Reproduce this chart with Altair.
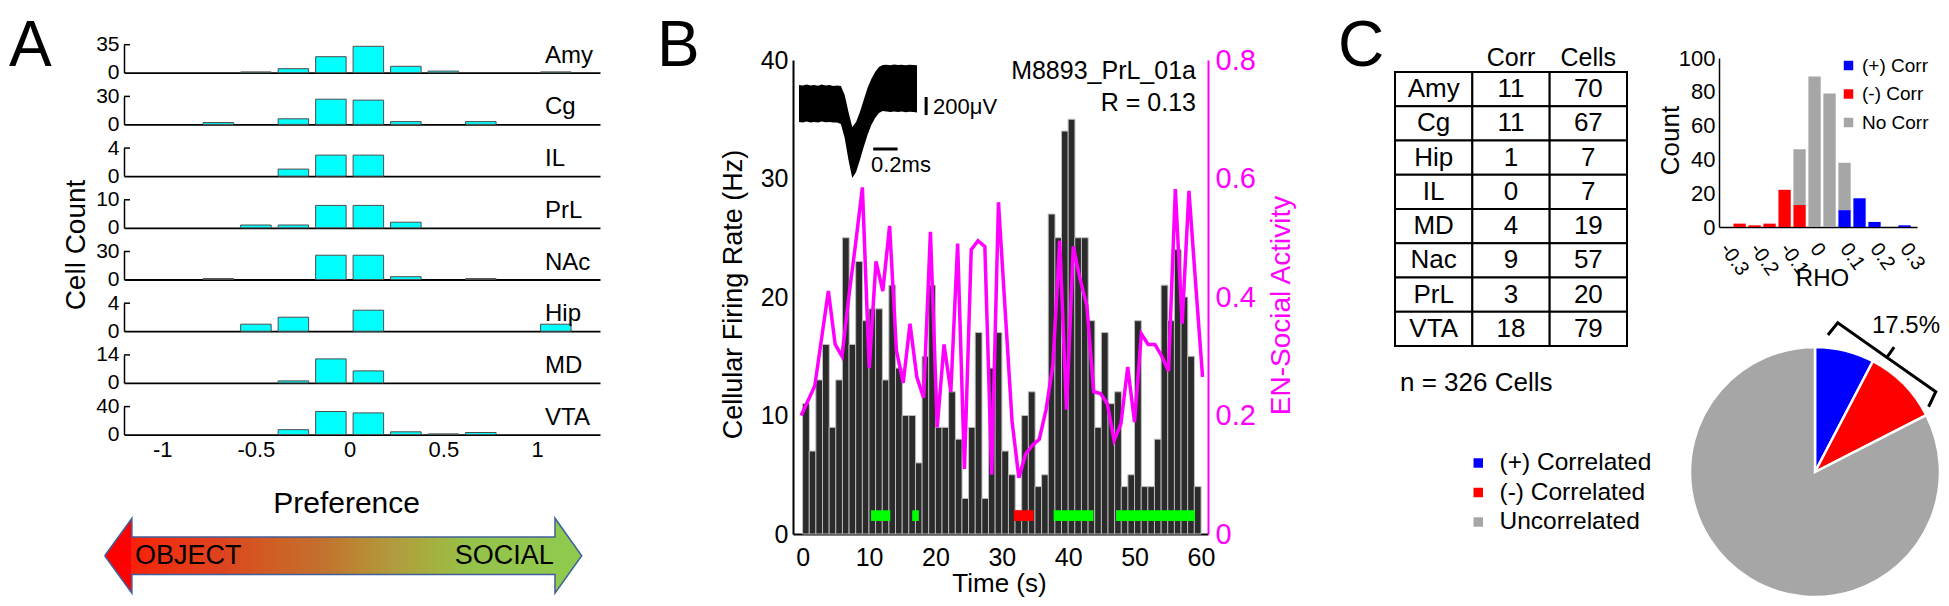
import altair as alt
import pandas as pd

FONT = "Liberation Sans"
BLACK = "#000000"
MAGENTA = "#ff00ff"
CYAN = "#00ffff"
W, H = 1933, 590

# ---------------- Panel A data ----------------
regions_a = ["Amy", "Cg", "IL", "PrL", "NAc", "Hip", "MD", "VTA"]
ytop_a = [35, 30, 4, 10, 30, 4, 14, 40]
pref_bins = [-0.7, -0.5, -0.3, -0.1, 0.1, 0.3, 0.5, 0.7, 0.9, 1.1]
count_amy = [0, 1, 5, 20, 33, 8, 2, 0, 0, 1]
count_cg = [2, 0, 6, 27, 26, 3, 0, 3, 0, 0]
count_il = [0, 0, 1, 3, 3, 0, 0, 0, 0, 0]
count_prl = [0, 1, 1, 8, 8, 2, 0, 0, 0, 0]
count_nac = [1, 0, 0, 26, 26, 3, 0, 1, 0, 0]
count_hip = [0, 1, 2, 0, 3, 0, 0, 0, 0, 1]
count_md = [0, 0, 1, 12, 6, 0, 0, 0, 0, 0]
count_vta = [0, 0, 7, 33, 31, 4, 1, 3, 0, 0]
counts_a = [count_amy, count_cg, count_il, count_prl, count_nac, count_hip, count_md, count_vta]
pref_ticks = [-1, -0.5, 0, 0.5, 1]

# double arrow (tip-to-tip 0..1, head half-height 1, body half-height 0.5)
HEAD_L, HEAD_R = 0.057, 0.944
arrow_path_u = [0.0, HEAD_L, HEAD_L, HEAD_R, HEAD_R, 1.0, HEAD_R, HEAD_R, HEAD_L, HEAD_L, 0.0]
arrow_path_v = [0.0, 1.0, 0.5, 0.5, 1.0, 0.0, -1.0, -0.5, -0.5, -1.0, 0.0]
grad_pos = [0.0, 0.25, 0.45, 0.6, 0.76, 1.0]
grad_col = ["#ff0000", "#dd4420", "#c46f30", "#b09a3e", "#95c24a", "#8fca4f"]

# ---------------- Panel B data ----------------
time_bins = [i + 0.5 for i in range(60)]
firing_hz = [11, 7, 13, 16, 9, 13, 25, 16, 23, 18,
             19, 19, 13, 21, 14, 10, 10, 6, 15, 21,
             9, 9, 12, 8, 3, 9, 17, 3, 14, 17,
             7, 5, 2, 10, 12, 4, 5, 27, 25, 34,
             35, 25, 25, 18, 9, 17, 11, 12, 4, 5,
             18, 4, 4, 8, 21, 18, 24, 20, 15, 4]
en_social = [0.20, 0.225, 0.25, 0.33, 0.41, 0.32, 0.30, 0.40, 0.49, 0.585,
             0.28, 0.46, 0.41, 0.52, 0.31, 0.255, 0.355, 0.265, 0.23, 0.51,
             0.18, 0.32, 0.24, 0.49, 0.11, 0.48, 0.495, 0.485, 0.10, 0.56,
             0.375, 0.19, 0.095, 0.135, 0.15, 0.16, 0.21, 0.285, 0.495, 0.21,
             0.485, 0.43, 0.385, 0.24, 0.237, 0.22, 0.158, 0.186, 0.282, 0.189,
             0.338, 0.32, 0.32, 0.30, 0.275, 0.582, 0.355, 0.579, 0.42, 0.265]
epoch_start = [10.3, 16.5, 31.8, 37.8, 47.2]
epoch_end = [13.2, 17.5, 34.8, 43.8, 59.1]
epoch_kind = ["social", "social", "object", "social", "social"]

wave_sample = list(range(32))
wave_upper = [205, 200, 210, 200, 205, 198, 210, 200, 205, 195, 200, 194, 94, -94, -261, -205,
              -94, 39, 172, 272, 350, 405, 427, 430, 425, 432, 428, 430, 425, 430, 427, 425]
wave_lower = [-205, -210, -200, -212, -205, -210, -200, -208, -205, -212, -210, -228, -383, -627, -827, -760,
              -627, -483, -350, -239, -161, -105, -83, -90, -95, -88, -94, -90, -96, -92, -95, -100]
SCALE_UV = 200
SAMPLES_PER_MS = 32

# ---------------- Panel C data ----------------
regions_t = ["Amy", "Cg", "Hip", "IL", "MD", "Nac", "PrL", "VTA"]
corr_t = [11, 11, 1, 0, 4, 9, 3, 18]
cells_t = [70, 67, 7, 7, 19, 57, 20, 79]

rho_bins = [-0.275, -0.225, -0.175, -0.125, -0.075, -0.025, 0.025, 0.075, 0.125, 0.175, 0.225, 0.275]
rho_pos = [0, 0, 0, 0, 0, 0, 0, 10, 17, 3, 0, 1]
rho_neg = [2, 1, 2, 22, 13, 0, 0, 0, 0, 0, 0, 0]
rho_none = [0, 0, 0, 0, 33, 89, 79, 28, 0, 0, 0, 0]
hist_types = ["(+) Corr", "(-) Corr", "No Corr"]

pie_labels = ["(+) Correlated", "(-) Correlated", "Uncorrelated"]
pie_counts = [25, 32, 269]
corr_colors = ["#0000ff", "#ff0000", "#a6a6a6"]

# bracket around the correlated slices, in pie-radius units
bracket_x = [0.103, 0.182, 0.575, 0.633, 0.575, 0.966, 0.909]
bracket_y = [1.096, 1.194, 0.917, 0.999, 0.917, 0.642, 0.522]

# ---------------- helpers ----------------
ONE = pd.DataFrame({"a": [0]})
MINUS = "datum.value < 0 ? '-' + format(-datum.value, '~g') : format(datum.value, '~g')"


def ax(**kw):
    base = dict(grid=False, ticks=False, tickSize=0, labelFont=FONT, titleFont=FONT,
                labelColor=BLACK, titleColor=BLACK, domainColor=BLACK,
                labelFlush=False, labelOverlap=False, titleFontWeight="normal")
    base.update(kw)
    return alt.Axis(**base)


def text_mark(txt, x, y, size, align="left", baseline="alphabetic", angle=None, color=BLACK):
    kw = dict(text=txt, font=FONT, fontSize=size, align=align, baseline=baseline, color=color)
    if angle is not None:
        kw["angle"] = angle
    return alt.Chart(ONE).mark_text(**kw).encode(x=alt.value(x), y=alt.value(y))


layers = []
texts = []

# ---------------- Panel A ----------------
A_X0, A_X1 = 116, 592
XDOM_A = [-1.177, 1.309]
A_H = 28
for i, (name, top, counts) in enumerate(zip(regions_a, ytop_a, counts_a)):
    base_y = 64.7 + 51.7 * i
    df = pd.DataFrame({"pref": pref_bins, "n": counts})
    df = df[df["n"] > 0]
    if i == len(regions_a) - 1:
        xaxis = ax(orient="bottom", values=pref_ticks, labelExpr=MINUS, labelFontSize=22,
                   labelPadding=14.5, labelBaseline="middle", domainWidth=1.8, title=None,
                   offset=base_y - H)
    else:
        xaxis = ax(orient="bottom", labels=False, domainWidth=1.8, title=None, offset=base_y - H)
    ysc = alt.Scale(domain=[0, top], range=[base_y, base_y - A_H], nice=False)
    bars = alt.Chart(df).mark_bar(orient="vertical", size=30.5, fill=CYAN, stroke="#4d4d4d",
                                  strokeWidth=1).encode(
        x=alt.X("pref:Q", scale=alt.Scale(domain=XDOM_A, range=[A_X0, A_X1], nice=False, zero=False),
                axis=xaxis),
        y=alt.Y("n:Q", scale=ysc,
                axis=ax(orient="left", values=[0, top], format="~g", labelFontSize=21, labelPadding=5,
                        domainWidth=1.5, title=None, offset=-A_X0)))
    tick = alt.Chart(pd.DataFrame({"n": [top]})).mark_rule(color=BLACK, strokeWidth=1.5).encode(
        y=alt.Y("n:Q"), x=alt.value(A_X0), x2=alt.value(A_X0 + 6))
    layers.append(alt.layer(bars, tick))
    texts.append(text_mark(name, 537, base_y - 10, 24))

texts.append(text_mark("A", 1, 58, 64))
texts.append(text_mark("Cell Count", 69, 237, 28, align="center", baseline="middle", angle=270))

# arrow: gradient body built from thin strips coloured through a colour scale
axs = alt.Scale(domain=[0, 1], range=[96.7, 573.7], nice=False, zero=False)
ays = alt.Scale(domain=[-1, 1], range=[585.2, 510.2], nice=False, zero=False)
n_strips = 90
strip_w = (HEAD_R - HEAD_L) / n_strips
strip_df = pd.DataFrame({"u0": [HEAD_L + k * strip_w for k in range(n_strips)]})
strip_df["u1"] = strip_df["u0"] + strip_w * 1.25
strip_df["uc"] = strip_df["u0"] + strip_w / 2
strip_df["vt"] = 0.5
strip_df["vb"] = -0.5
body = alt.Chart(strip_df).mark_rect(strokeWidth=0).encode(
    x=alt.X("u0:Q", scale=axs, axis=None), x2="u1:Q",
    y=alt.Y("vt:Q", scale=ays, axis=None), y2="vb:Q",
    color=alt.Color("uc:Q", scale=alt.Scale(domain=grad_pos, range=grad_col), legend=None))
lhead = alt.Chart(pd.DataFrame({"u": [0.0, HEAD_L], "t": [0.0, 1.0], "b": [0.0, -1.0]})).mark_area(
    color=grad_col[0]).encode(x=alt.X("u:Q", scale=axs, axis=None), y=alt.Y("t:Q", scale=ays, axis=None),
                              y2="b:Q")
rhead = alt.Chart(pd.DataFrame({"u": [HEAD_R, 1.0], "t": [1.0, 0.0], "b": [-1.0, 0.0]})).mark_area(
    color=grad_col[-1]).encode(x=alt.X("u:Q", scale=axs, axis=None), y=alt.Y("t:Q", scale=ays, axis=None),
                               y2="b:Q")
outline = alt.Chart(pd.DataFrame({"u": arrow_path_u, "v": arrow_path_v, "k": list(range(len(arrow_path_u)))})
                    ).mark_line(color="#41609a", strokeWidth=1.5).encode(
    x=alt.X("u:Q", scale=axs, axis=None), y=alt.Y("v:Q", scale=ays, axis=None), order=alt.Order("k:Q"))
layers.append(alt.layer(body, lhead, rhead, outline))
texts += [text_mark("Preference", 338.6, 505, 30, align="center"),
          text_mark("OBJECT", 127, 547.7, 27, baseline="middle"),
          text_mark("SOCIAL", 545.8, 547.7, 27, align="right", baseline="middle")]

# ---------------- Panel B ----------------
B_X0, B_X1, B_Y0, B_Y1 = 785, 1200, 526, 52
xsB = alt.Scale(domain=[-0.7, 60.3], range=[B_X0, B_X1], nice=False, zero=False)
fr_df = pd.DataFrame({"t": time_bins, "hz": firing_hz})
bars_b = alt.Chart(fr_df).mark_bar(orient="vertical", size=6.8, color="#2b2b2b", stroke="#bdbdbd",
                                   strokeWidth=1).encode(
    x=alt.X("t:Q", scale=xsB,
            axis=ax(orient="bottom", values=[0, 10, 20, 30, 40, 50, 60], labelFontSize=25,
                    labelPadding=23, labelBaseline="middle", domainWidth=2, offset=B_Y0 - H,
                    title="Time (s)", titleFontSize=26, titleX=991, titleY=49,
                    titleAlign="center", titleBaseline="middle")),
    y=alt.Y("hz:Q", scale=alt.Scale(domain=[0, 40], range=[B_Y0, B_Y1], nice=False),
            axis=ax(orient="left", values=[0, 10, 20, 30, 40], labelFontSize=25, labelPadding=5,
                    domainWidth=2, offset=-B_X0, title="Cellular Firing Rate (Hz)", titleFontSize=27,
                    titleX=-60, titleY=286, titleAngle=270, titleAlign="center",
                    titleBaseline="middle")))
ep_df = pd.DataFrame({"start": epoch_start, "end": epoch_end, "kind": epoch_kind})
epochs = alt.Chart(ep_df).mark_rect().encode(
    x=alt.X("start:Q", scale=xsB), x2="end:Q",
    y=alt.datum(1.1), y2=alt.datum(2.0),
    color=alt.Color("kind:N", scale=alt.Scale(domain=["social", "object"], range=["#00ff00", "#ff0000"]),
                    legend=None))
layers.append(alt.layer(bars_b, epochs))

en_df = pd.DataFrame({"t": time_bins, "en": en_social})
line_b = alt.Chart(en_df).mark_line(color=MAGENTA, strokeWidth=3.5).encode(
    x=alt.X("t:Q", scale=xsB, axis=None),
    y=alt.Y("en:Q", scale=alt.Scale(domain=[0, 0.8], range=[B_Y0, B_Y1], nice=False),
            axis=ax(orient="right", values=[0, 0.2, 0.4, 0.6, 0.8], format="~g", labelFontSize=29,
                    labelPadding=7, domainWidth=2, domainColor=MAGENTA, labelColor=MAGENTA,
                    titleColor=MAGENTA, offset=B_X1 - W, title="EN-Social Activity", titleFontSize=28,
                    titleX=73, titleY=297, titleAngle=270, titleAlign="center", titleBaseline="middle")))
layers.append(line_b)

wxs = alt.Scale(domain=[0, 31], range=[791, 909], nice=False, zero=False)
wys = alt.Scale(domain=[-1110, 555], range=[195.5, 45.5], nice=False, zero=False)
wave_df = pd.DataFrame({"s": wave_sample, "hi": wave_upper, "lo": wave_lower})
wave = alt.Chart(wave_df).mark_area(color=BLACK, opacity=1).encode(
    x=alt.X("s:Q", scale=wxs, axis=None), y=alt.Y("hi:Q", scale=wys, axis=None), y2="lo:Q")
vbar_df = pd.DataFrame({"x": [33.4], "y": [72], "y2": [72 - SCALE_UV]})
vbar = alt.Chart(vbar_df).mark_rule(color=BLACK, strokeWidth=3).encode(
    x=alt.X("x:Q"), y=alt.Y("y:Q"), y2="y2:Q")
hbar_df = pd.DataFrame({"x": [19.5], "x2": [19.5 + 0.2 * SAMPLES_PER_MS], "y": [-505]})
hbar = alt.Chart(hbar_df).mark_rule(color=BLACK, strokeWidth=3).encode(
    x=alt.X("x:Q"), x2="x2:Q", y=alt.Y("y:Q"))
layers.append(alt.layer(wave, vbar, hbar))

texts += [text_mark("B", 649, 58, 64),
          text_mark("M8893_PrL_01a", 1188, 63, 25, align="right", baseline="middle"),
          text_mark("R = 0.13", 1188, 95, 25, align="right", baseline="middle"),
          text_mark("200\u03bcV", 925, 99, 22, baseline="middle"),
          text_mark("0.2ms", 863, 157, 22, baseline="middle")]

# ---------------- Panel C : table ----------------
table_cols = ["Region", "Corr", "Cells"]
rows = []
for r, c, n in zip(regions_t, corr_t, cells_t):
    rows += [{"row": r, "col": "Region", "label": r},
             {"row": r, "col": "Corr", "label": str(c)},
             {"row": r, "col": "Cells", "label": str(n)}]
tdf = pd.DataFrame(rows)
T_Y0 = 64
xt = alt.X("col:N", sort=table_cols,
           scale=alt.Scale(domain=table_cols, range=[1387, 1619], paddingInner=0, paddingOuter=0),
           axis=ax(orient="top", labelExpr="datum.value == 'Region' ? '' : datum.value",
                   labelAngle=0, domain=False, labelFontSize=25, labelPadding=7,
                   labelBaseline="alphabetic", title=None, offset=-T_Y0))
yt = alt.Y("row:N", sort=regions_t,
           scale=alt.Scale(domain=regions_t, range=[T_Y0, 338], paddingInner=0, paddingOuter=0), axis=None)
cells_rect = alt.Chart(tdf).mark_rect(fill="white", stroke=BLACK, strokeWidth=2).encode(x=xt, y=yt)
cells_text = alt.Chart(tdf).mark_text(font=FONT, fontSize=26, color=BLACK).encode(
    x=xt, y=yt, text="label:N")
layers.append(alt.layer(cells_rect, cells_text))
texts += [text_mark("C", 1330, 58, 64),
          text_mark(f"n = {sum(cells_t)} Cells", 1392, 375, 26, baseline="middle")]

# ---------------- Panel C : histogram ----------------
H_X0, H_X1, H_Y0, H_Y1 = 1711, 1909, 219, 50
hrows = []
for b, p, m, u in zip(rho_bins, rho_pos, rho_neg, rho_none):
    for t, v, k in zip(hist_types, [p, m, u], [0, 1, 2]):
        if v > 0:
            hrows.append({"rho": b, "count": v, "type": t, "k": k})
hdf = pd.DataFrame(hrows)
hist = alt.Chart(hdf).mark_bar(orient="vertical", size=12.3).encode(
    x=alt.X("rho:Q", scale=alt.Scale(domain=[-0.327, 0.30], range=[H_X0, H_X1], nice=False, zero=False),
            axis=ax(orient="bottom", values=[-0.3, -0.2, -0.1, 0, 0.1, 0.2, 0.3], labelExpr=MINUS,
                    labelFontSize=20, labelAngle=55, labelAlign="left", labelBaseline="top",
                    labelPadding=12, domainWidth=1.5, offset=H_Y0 - H, title="RHO", titleFontSize=24,
                    titleX=1814, titleY=51, titleBaseline="middle", titleAlign="center")),
    y=alt.Y("count:Q", stack="zero", scale=alt.Scale(domain=[0, 100], range=[H_Y0, H_Y1], nice=False),
            axis=ax(orient="left", values=[0, 20, 40, 60, 80, 100], labelFontSize=22, labelPadding=4,
                    domainWidth=1.5, offset=-H_X0, title="Count", titleFontSize=26, titleX=-49,
                    titleY=132, titleAngle=270, titleAlign="center", titleBaseline="middle")),
    color=alt.Color("type:N", scale=alt.Scale(domain=hist_types, range=corr_colors),
                    legend=alt.Legend(orient="none", legendX=1831, legendY=48, title=None,
                                      symbolType="square", symbolSize=90, symbolStrokeWidth=0,
                                      labelFontSize=19, labelFont=FONT, labelColor=BLACK,
                                      rowPadding=8.5, padding=0, symbolOffset=0, labelOffset=4)),
    order=alt.Order("k:Q"))
layers.append(hist)

# ---------------- Panel C : pie ----------------
PX, PY, PR = 1807, 464, 125
pdf = pd.DataFrame({"label": pie_labels, "n": pie_counts, "k": [0, 1, 2]})
pie = alt.Chart(pdf).mark_arc(outerRadius=PR, stroke="white", strokeWidth=2.5).encode(
    theta=alt.Theta("n:Q", stack=True),
    color=alt.Color("label:N", scale=alt.Scale(domain=pie_labels, range=corr_colors),
                    legend=alt.Legend(orient="none", legendX=1458, legendY=442.75, title=None,
                                      symbolType="square", symbolSize=90, symbolStrokeWidth=0,
                                      labelFontSize=24.5, labelFont=FONT, labelColor=BLACK,
                                      rowPadding=4.5, padding=0, symbolOffset=0, labelOffset=9)),
    order=alt.Order("k:Q"),
    x=alt.value(PX), y=alt.value(PY))
layers.append(pie)
bdf = pd.DataFrame({"bx": bracket_x, "by": bracket_y, "k": list(range(len(bracket_x)))})
bracket = alt.Chart(bdf).mark_line(color=BLACK, strokeWidth=3, strokeJoin="miter").encode(
    x=alt.X("bx:Q", scale=alt.Scale(domain=[0, 1], range=[PX, PX + PR], nice=False, zero=False), axis=None),
    y=alt.Y("by:Q", scale=alt.Scale(domain=[0, 1], range=[PY, PY - PR], nice=False, zero=False), axis=None),
    order=alt.Order("k:Q"))
layers.append(bracket)
pct = 100 * (pie_counts[0] + pie_counts[1]) / sum(pie_counts)
texts.append(text_mark(f"{pct:.1f}%", 1898, 318, 24, align="center", baseline="middle"))

# ---------------- assemble ----------------
chart = alt.layer(*layers, *texts).resolve_scale(
    x="independent", y="independent", color="independent"
).properties(width=W, height=H, padding=0, autosize=alt.AutoSizeParams(type="none"))
chart = chart.configure(font=FONT).configure_view(stroke=None)

chart.save("out.html", embed_options={"renderer": "svg", "actions": False})
